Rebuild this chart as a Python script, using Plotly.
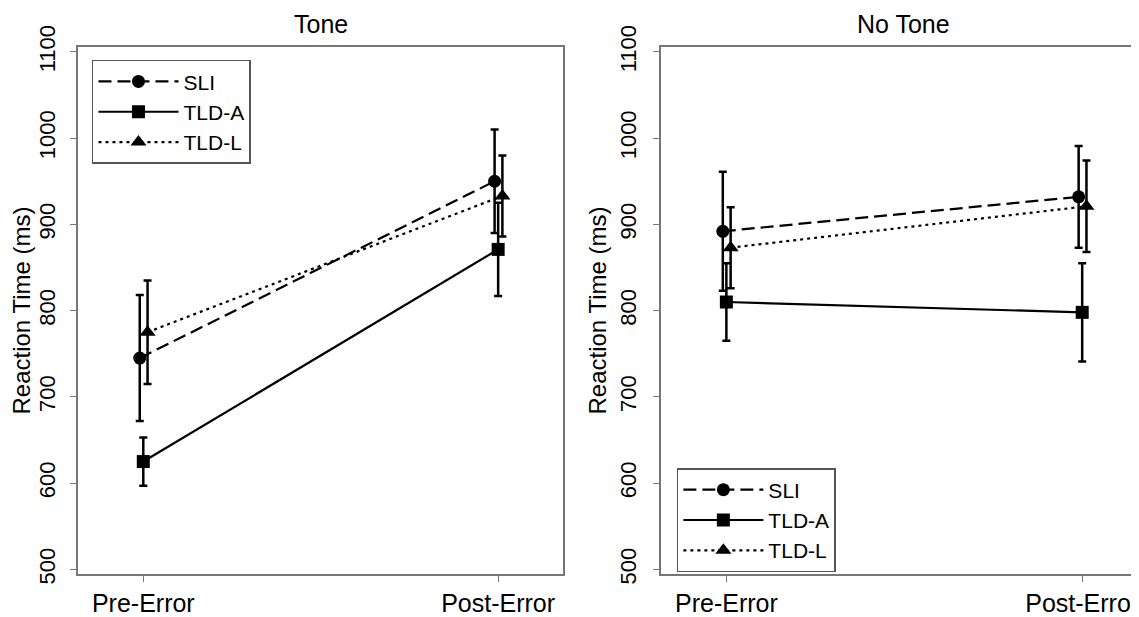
import plotly.graph_objects as go

conditions = ["Pre-Error", "Post-Error"]
groups = ["SLI", "TLD-A", "TLD-L"]

# Tone panel (ms)
tone_sli = [745, 950]
tone_sli_err = [73, 60]
tone_tlda = [625, 871]
tone_tlda_err = [28, 54]
tone_tldl = [775, 933]
tone_tldl_err = [60, 47]

# No Tone panel (ms)
notone_sli = [892, 932]
notone_sli_err = [69, 59]
notone_tlda = [810, 798]
notone_tlda_err = [45, 57]
notone_tldl = [873, 921]
notone_tldl_err = [47, 53]

yticks = [500, 600, 700, 800, 900, 1000, 1100]

FONT = "Liberation Sans, Arial, sans-serif"
styles = {
    "SLI": dict(dash="13px,6px", symbol="circle", size=13, dodge=-0.01),
    "TLD-A": dict(dash="solid", symbol="square", size=13, dodge=0.0),
    "TLD-L": dict(dash="3px,4px", symbol="triangle-up", size=14, dodge=0.012),
}

panels = [
    ("x", "y", "legend", [tone_sli, tone_tlda, tone_tldl], [tone_sli_err, tone_tlda_err, tone_tldl_err]),
    ("x2", "y2", "legend2", [notone_sli, notone_tlda, notone_tldl], [notone_sli_err, notone_tlda_err, notone_tldl_err]),
]

fig = go.Figure()
for xa, ya, lg, vals, errs in panels:
    for g, v, e in zip(groups, vals, errs):
        s = styles[g]
        xs = [i + s["dodge"] for i in range(len(conditions))]
        fig.add_trace(go.Scatter(
            x=xs, y=v, name=g, xaxis=xa, yaxis=ya, legend=lg,
            mode="lines+markers",
            line=dict(color="black", width=2.2, dash=s["dash"]),
            marker=dict(color="black", symbol=s["symbol"], size=s["size"]),
            error_y=dict(type="data", array=e, symmetric=True, color="black",
                         thickness=2.5, width=4),
        ))

# page body has an 8px margin, so the figure is 8px smaller than the window
W, H = 1131, 609
L, T = 70, 39
BOX_BOTTOM = 574
B = H - BOX_BOTTOM
R = 0
pw = W - L - R
ph = BOX_BOTTOM - T
d1 = [0, (556 - L) / pw]
d2 = [(654 - L) / pw, 1]

axis_common = dict(showgrid=False, zeroline=False, linecolor="#777777", linewidth=1.6,
                   ticks="outside", tickcolor="#777777", ticklen=6, tickwidth=1.2)

fig.update_layout(
    width=W, height=H,
    margin=dict(l=L, r=R, t=T, b=B),
    paper_bgcolor="white", plot_bgcolor="white",
    font=dict(family=FONT, color="black"),
    xaxis=dict(domain=d1, range=[-0.184, 1.183], tickvals=[0, 1], ticktext=conditions,
               tickfont=dict(size=25), showline=True, mirror=True, anchor="y", **axis_common),
    yaxis=dict(domain=[0, 1], range=[494.6, 1105.7], tickvals=yticks, tickangle=-90,
               tickfont=dict(size=22), showline=True, mirror=True, anchor="x",
               ticklabelstandoff=6,
               title=dict(text="Reaction Time (ms)", font=dict(size=24), standoff=6),
               **axis_common),
    xaxis2=dict(domain=d2, range=[-0.184, 1.154], tickvals=[0, 1], ticktext=conditions,
                tickfont=dict(size=25), showline=True, mirror=True, anchor="y2",
                ticklabeloverflow="allow", **axis_common),
    yaxis2=dict(domain=[0, 1], range=[494.6, 1105.7], tickvals=yticks, tickangle=-90,
                tickfont=dict(size=22), showline=True, mirror=False, anchor="x2",
                ticklabelstandoff=8,
                title=dict(text="Reaction Time (ms)", font=dict(size=24), standoff=3),
                **axis_common),
    legend=dict(x=(84 - L) / pw, y=(BOX_BOTTOM - 52) / ph, xanchor="left", yanchor="top",
                bordercolor="#555555", borderwidth=1.5, bgcolor="white",
                font=dict(size=21), itemwidth=80, tracegroupgap=0),
    legend2=dict(x=(670 - L) / pw, y=(BOX_BOTTOM - 572) / ph, xanchor="left", yanchor="bottom",
                 bordercolor="#555555", borderwidth=1.5, bgcolor="white",
                 font=dict(size=21), itemwidth=80, tracegroupgap=0),
    annotations=[
        dict(text="Tone", x=sum(d1) / 2, y=1, xref="paper", yref="paper",
             xanchor="center", yanchor="bottom", yshift=7, showarrow=False,
             font=dict(size=25)),
        dict(text="No Tone", x=d2[0] + (d1[1] - d1[0]) / 2, y=1, xref="paper", yref="paper",
             xanchor="center", yanchor="bottom", yshift=7, showarrow=False,
             font=dict(size=25)),
    ],
)

fig.write_html("out.html")
